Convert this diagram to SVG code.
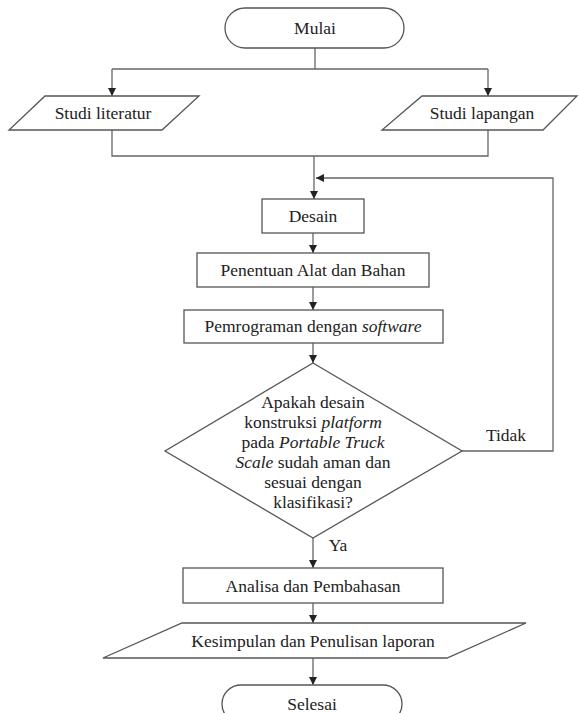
<svg xmlns="http://www.w3.org/2000/svg" width="579" height="713" viewBox="0 0 579 713">
<style>
.shape{fill:#fff;stroke:#555;stroke-width:1.3}
.line{fill:none;stroke:#666;stroke-width:1.3}
.t{font-family:'Liberation Serif','Times New Roman',serif;font-size:17.5px;fill:#222;text-anchor:middle}
.i{font-style:italic}
</style>
<defs>
<marker id="ah" viewBox="0 0 10 10" refX="10" refY="5" markerWidth="8" markerHeight="8" markerUnits="userSpaceOnUse" orient="auto">
<path d="M0,0 L10,5 L0,10 Z" fill="#222"/>
</marker>
</defs>
<rect width="579" height="713" fill="#fff"/>
<g id="connectors">
<path class="line" d="M315,48 V69"/>
<path class="line" d="M112,69 H488"/>
<path class="line" d="M112,69 V96" marker-end="url(#ah)"/>
<path class="line" d="M488,69 V96" marker-end="url(#ah)"/>
<path class="line" d="M112,130 V156 H488 V130"/>
<path class="line" d="M314,156 V199" marker-end="url(#ah)"/>
<path class="line" d="M462,451 H553 V178 H316" marker-end="url(#ah)"/>
<path class="line" d="M313,233 V253" marker-end="url(#ah)"/>
<path class="line" d="M313,287 V310" marker-end="url(#ah)"/>
<path class="line" d="M313,343 V363" marker-end="url(#ah)"/>
<path class="line" d="M313,538 V568" marker-end="url(#ah)"/>
<path class="line" d="M313,603 V623" marker-end="url(#ah)"/>
<path class="line" d="M313,658 V685" marker-end="url(#ah)"/>
<text class="t" x="506" y="441">Tidak</text>
<text class="t" x="338" y="551">Ya</text>
</g>
<g id="mulai">
<rect class="shape" x="225" y="8" width="179" height="40" rx="20" ry="20"/>
<text class="t" x="315" y="34">Mulai</text>
</g>
<g id="studi-literatur">
<polygon class="shape" points="45,96 199,96 162,130 9,130"/>
<text class="t" x="103" y="119">Studi literatur</text>
</g>
<g id="studi-lapangan">
<polygon class="shape" points="422,96 577,96 543,130 382,130"/>
<text class="t" x="482" y="119">Studi lapangan</text>
</g>
<g id="desain">
<rect class="shape" x="262" y="199" width="102" height="34"/>
<text class="t" x="313" y="222">Desain</text>
</g>
<g id="penentuan">
<rect class="shape" x="197" y="253" width="232" height="34"/>
<text class="t" x="313" y="276">Penentuan Alat dan Bahan</text>
</g>
<g id="pemrograman">
<rect class="shape" x="184" y="310" width="259" height="33"/>
<text class="t" x="313" y="332">Pemrograman dengan <tspan class="i">software</tspan></text>
</g>
<g id="keputusan">
<polygon class="shape" points="313,363 462,451 313,538 165,451"/>
<text class="t" x="313" y="408">Apakah desain</text>
<text class="t" x="313" y="428">konstruksi <tspan class="i">platform</tspan></text>
<text class="t" x="313" y="448">pada <tspan class="i">Portable Truck</tspan></text>
<text class="t" x="313" y="468"><tspan class="i">Scale</tspan> sudah aman dan</text>
<text class="t" x="313" y="488">sesuai dengan</text>
<text class="t" x="313" y="508">klasifikasi?</text>
</g>
<g id="analisa">
<rect class="shape" x="183" y="568" width="260" height="35"/>
<text class="t" x="313" y="592">Analisa dan Pembahasan</text>
</g>
<g id="kesimpulan">
<polygon class="shape" points="182,623 526,623 447,658 103,658"/>
<text class="t" x="313" y="647">Kesimpulan dan Penulisan laporan</text>
</g>
<g id="selesai">
<rect class="shape" x="222" y="685" width="180" height="38" rx="19" ry="19"/>
<text class="t" x="312" y="710">Selesai</text>
</g>
</svg>
